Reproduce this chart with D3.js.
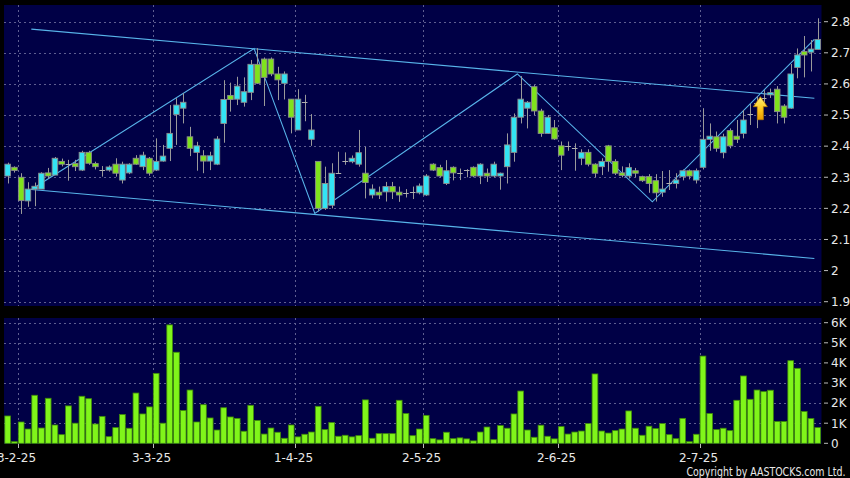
<!DOCTYPE html>
<html><head><meta charset="utf-8">
<script src="https://cdn.jsdelivr.net/npm/d3@7/dist/d3.min.js"></script>
<style>html,body{margin:0;padding:0;background:#000;}svg{display:block;}</style>
</head><body>
<script>
// ---- categories (HK trading days, D-M-YY) ----
const dates = ("27-1-25 28-1-25 " +
 "3-2-25 4-2-25 5-2-25 6-2-25 7-2-25 10-2-25 11-2-25 12-2-25 13-2-25 14-2-25 17-2-25 18-2-25 19-2-25 20-2-25 21-2-25 24-2-25 25-2-25 26-2-25 27-2-25 28-2-25 " +
 "3-3-25 4-3-25 5-3-25 6-3-25 7-3-25 10-3-25 11-3-25 12-3-25 13-3-25 14-3-25 17-3-25 18-3-25 19-3-25 20-3-25 21-3-25 24-3-25 25-3-25 26-3-25 27-3-25 28-3-25 31-3-25 " +
 "1-4-25 2-4-25 3-4-25 7-4-25 8-4-25 9-4-25 10-4-25 11-4-25 14-4-25 15-4-25 16-4-25 17-4-25 22-4-25 23-4-25 24-4-25 25-4-25 28-4-25 29-4-25 30-4-25 " +
 "2-5-25 6-5-25 7-5-25 8-5-25 9-5-25 12-5-25 13-5-25 14-5-25 15-5-25 16-5-25 19-5-25 20-5-25 21-5-25 22-5-25 23-5-25 26-5-25 27-5-25 28-5-25 29-5-25 30-5-25 " +
 "2-6-25 3-6-25 4-6-25 5-6-25 6-6-25 9-6-25 10-6-25 11-6-25 12-6-25 13-6-25 16-6-25 17-6-25 18-6-25 19-6-25 20-6-25 23-6-25 24-6-25 25-6-25 26-6-25 27-6-25 30-6-25 " +
 "2-7-25 3-7-25 4-7-25 7-7-25 8-7-25 9-7-25 10-7-25 11-7-25 14-7-25 15-7-25 16-7-25 17-7-25 18-7-25 21-7-25 22-7-25 23-7-25 24-7-25 25-7-25").split(" ");

// ---- series values ----
const open  = [2.304,2.332,2.300,2.224,2.262,2.262,2.314,2.307,2.351,2.344,2.344,2.323,2.380,2.344,2.323,2.323,2.342,2.291,2.314,2.361,
 2.334,2.361,2.323,2.352,2.393,2.502,2.522,2.430,2.380,2.369,2.352,2.342,2.473,2.563,2.551,2.541,2.573,2.663,2.680,2.680,
 2.632,2.602,2.551,2.452,2.541,2.422,2.351,2.200,2.210,2.314,2.352,2.350,2.342,2.313,2.243,2.252,2.253,2.270,2.252,2.248,
 2.252,2.250,2.243,2.342,2.331,2.280,2.332,2.313,2.322,2.332,2.304,2.313,2.304,2.304,2.334,2.380,2.493,2.522,2.591,2.513,
 2.441,2.459,2.401,2.400,2.393,2.361,2.380,2.342,2.334,2.401,2.351,2.314,2.304,2.321,2.302,2.302,2.289,2.252,2.280,2.280,
 2.302,2.321,2.291,2.332,2.422,2.430,2.379,2.450,2.432,2.441,2.502,2.540,2.556,2.565,2.583,2.529,2.522,2.653,2.704,2.702,2.711];
const high  = [2.347,2.335,2.313,2.284,2.283,2.316,2.330,2.365,2.360,2.356,2.356,2.385,2.385,2.350,2.336,2.338,2.361,2.350,2.345,2.371,
 2.382,2.365,2.425,2.404,2.532,2.554,2.570,2.462,2.414,2.387,2.382,2.432,2.612,2.604,2.623,2.621,2.677,2.715,2.685,2.685,
 2.655,2.640,2.551,2.583,2.565,2.503,2.351,2.334,2.345,2.382,2.380,2.370,2.452,2.398,2.277,2.270,2.285,2.285,2.270,2.262,
 2.270,2.280,2.310,2.345,2.340,2.355,2.335,2.328,2.326,2.335,2.345,2.328,2.350,2.315,2.441,2.505,2.625,2.545,2.596,2.520,
 2.500,2.484,2.415,2.415,2.409,2.390,2.390,2.345,2.361,2.404,2.358,2.335,2.345,2.330,2.305,2.310,2.310,2.320,2.323,2.313,
 2.325,2.325,2.328,2.522,2.473,2.447,2.440,2.457,2.484,2.516,2.537,2.560,2.580,2.585,2.593,2.535,2.664,2.714,2.754,2.741,2.811];
const low   = [2.280,2.315,2.182,2.205,2.207,2.262,2.296,2.307,2.335,2.289,2.320,2.320,2.340,2.325,2.302,2.318,2.302,2.280,2.310,2.340,
 2.323,2.305,2.320,2.350,2.352,2.404,2.473,2.368,2.321,2.313,2.323,2.339,2.411,2.511,2.532,2.527,2.548,2.600,2.529,2.625,
 2.548,2.550,2.441,2.452,2.480,2.401,2.190,2.195,2.200,2.313,2.340,2.345,2.334,2.232,2.232,2.230,2.222,2.230,2.221,2.235,
 2.230,2.245,2.240,2.320,2.300,2.275,2.290,2.291,2.300,2.300,2.278,2.285,2.300,2.260,2.280,2.350,2.473,2.457,2.500,2.430,
 2.440,2.420,2.323,2.385,2.321,2.339,2.335,2.300,2.307,2.318,2.307,2.300,2.296,2.300,2.285,2.250,2.222,2.237,2.259,2.264,
 2.290,2.293,2.280,2.325,2.385,2.382,2.361,2.393,2.410,2.425,2.468,2.458,2.530,2.555,2.473,2.473,2.520,2.618,2.621,2.640,2.711];
const close = [2.342,2.322,2.225,2.262,2.271,2.313,2.304,2.361,2.342,2.344,2.334,2.380,2.345,2.334,2.323,2.333,2.313,2.342,2.342,2.342,
 2.371,2.313,2.351,2.368,2.441,2.532,2.541,2.393,2.401,2.352,2.369,2.423,2.550,2.550,2.593,2.575,2.663,2.602,2.621,2.632,
 2.613,2.632,2.493,2.551,2.541,2.452,2.200,2.280,2.313,2.314,2.352,2.361,2.379,2.283,2.262,2.243,2.270,2.253,2.243,2.248,
 2.252,2.272,2.304,2.323,2.304,2.321,2.314,2.313,2.322,2.304,2.342,2.304,2.342,2.313,2.404,2.493,2.551,2.541,2.513,2.441,
 2.493,2.423,2.371,2.400,2.393,2.380,2.342,2.313,2.351,2.351,2.313,2.306,2.331,2.313,2.289,2.280,2.250,2.262,2.280,2.291,
 2.321,2.304,2.321,2.422,2.432,2.393,2.430,2.401,2.422,2.484,2.502,2.540,2.556,2.572,2.511,2.493,2.632,2.693,2.693,2.712,2.743];
const volumeK = [1.36,0.08,1.06,0.71,2.39,0.76,2.24,0.91,0.43,1.86,1.0,2.34,2.22,0.96,1.34,0.33,0.78,1.43,0.75,2.50,
 1.46,1.81,3.48,1.0,5.89,4.53,1.63,2.65,1.06,1.92,1.26,0.66,1.77,1.31,1.24,0.6,1.89,1.14,0.46,0.76,
 0.55,0.25,0.91,0.32,0.45,0.56,1.84,0.68,1.03,0.35,0.4,0.32,0.38,2.16,0.25,0.48,0.48,0.48,2.14,1.48,
 0.38,0.71,1.39,0.23,0.17,0.55,0.23,0.27,0.22,0.12,0.56,0.81,0.18,0.88,0.75,1.46,2.6,0.66,0.3,0.9,
 0.35,0.22,0.83,0.46,0.56,0.61,0.98,3.45,0.61,0.51,0.63,0.71,1.61,0.75,0.4,0.85,0.73,0.98,0.43,0.23,
 1.24,0.08,0.45,4.34,1.48,0.68,0.75,0.63,2.14,3.35,2.19,2.65,2.57,2.64,1.08,1.08,4.11,3.73,1.58,1.23,0.78];

// ---- tick labels ----
const priceTicks = [1.9,2.0,2.1,2.2,2.3,2.4,2.5,2.6,2.7,2.8];
const priceTickLabels = ["1.9","2","2.1","2.2","2.3","2.4","2.5","2.6","2.7","2.8"];
const volTicks = [0,1,2,3,4,5,6];
const volTickLabels = ["0","1K","2K","3K","4K","5K","6K"];
const monthTickDates = ["3-2-25","3-3-25","1-4-25","2-5-25","2-6-25","2-7-25"];

// ---- drawn trend lines: [bar index, price] ----
const channelUpper = [[4,2.776],[120,2.554]];
const channelLower = [[4,2.2605],[120,2.039]];
const zigzag = [[4,2.2605],[37,2.714],[46,2.184],[76,2.632],[96,2.221],[120,2.743]];
const signalBar = 112, signalPrice = 2.559;

// ---- layout ----
const W = 850, H = 478;
const svg = d3.select("body").append("svg").attr("width", W).attr("height", H)
  .style("font-family", "'DejaVu Sans', Verdana, sans-serif");
svg.append("rect").attr("width", W).attr("height", H).attr("fill", "#000");

const idx = d3.range(dates.length);
const x = d3.scaleBand().domain(idx).range([4.3, 821.1]).padding(0);
const bw = x.bandwidth();
const yP = d3.scaleLinear().domain([1.9, 2.8]).range([301.7, 21.7]);
const yV = d3.scaleLinear().domain([0, 6]).range([443.3, 322.7]);

const pTop = 5, pBot = 306, vTop = 318, vBot = 444, L = 4, R = 821.5;
const navy = "#000046";
svg.append("rect").attr("x", L).attr("y", pTop).attr("width", R - L).attr("height", pBot - pTop).attr("fill", navy);
svg.append("rect").attr("x", L).attr("y", vTop).attr("width", R - L).attr("height", vBot - vTop).attr("fill", navy);

const gridC = "#5e5e90", dash = "2,3";
const monthIdx = monthTickDates.map(d => dates.indexOf(d));
// horizontal grid price
svg.append("g").selectAll("line").data(priceTicks).join("line")
  .attr("x1", L).attr("x2", R).attr("y1", d => Math.round(yP(d)) + 0.5).attr("y2", d => Math.round(yP(d)) + 0.5)
  .attr("stroke", gridC).attr("stroke-dasharray", dash);
svg.append("g").selectAll("line").data(volTicks.filter(v => v > 0)).join("line")
  .attr("x1", L).attr("x2", R).attr("y1", d => Math.round(yV(d)) + 0.5).attr("y2", d => Math.round(yV(d)) + 0.5)
  .attr("stroke", gridC).attr("stroke-dasharray", dash);
// vertical grid
[[pTop, pBot], [vTop, vBot]].forEach(([a, b]) => {
  svg.append("g").selectAll("line").data(monthIdx).join("line")
    .attr("x1", i => Math.round(x(i)) + 0.5).attr("x2", i => Math.round(x(i)) + 0.5)
    .attr("y1", a).attr("y2", b).attr("stroke", gridC).attr("stroke-dasharray", dash);
});

// channel + zigzag lines
const lineGen = d3.line().x(d => x(d[0])).y(d => yP(d[1]));
const trendC = "#58b4ea";
[channelUpper, channelLower, zigzag].forEach(pts => {
  svg.append("path").attr("d", lineGen(pts)).attr("fill", "none")
    .attr("stroke", trendC).attr("stroke-width", 1.1);
});

// candles
const upC = "#33e4f4", dnC = "#7fe21c", wickC = "#9a9a9a";
const cg = svg.append("g");
idx.forEach(i => {
  const cx = Math.round(x(i) + bw / 2) + 0.5;
  cg.append("line").attr("x1", cx).attr("x2", cx).attr("y1", yP(high[i])).attr("y2", yP(low[i]))
    .attr("stroke", wickC).attr("stroke-width", 1);
  const o = open[i], c = close[i];
  const bx = x(i) + 0.6, bwid = bw - 1.2;
  if (Math.abs(o - c) < 0.0005) {
    cg.append("line").attr("x1", bx).attr("x2", bx + bwid).attr("y1", Math.round(yP(c)) + 0.5).attr("y2", Math.round(yP(c)) + 0.5)
      .attr("stroke", "#b0b0b0").attr("stroke-width", 1);
  } else {
    const top = yP(Math.max(o, c)), bot = yP(Math.min(o, c));
    cg.append("rect").attr("x", bx).attr("y", top).attr("width", bwid).attr("height", Math.max(1, bot - top))
      .attr("fill", c > o ? upC : dnC).attr("stroke", "#8c8c8c").attr("stroke-width", 0.9);
  }
});

// signal arrow
const defs = svg.append("defs");
const grad = defs.append("linearGradient").attr("id", "ag").attr("x1", 0).attr("y1", 0).attr("x2", 0).attr("y2", 1);
grad.append("stop").attr("offset", "0%").attr("stop-color", "#fff27a");
grad.append("stop").attr("offset", "55%").attr("stop-color", "#ffc91a");
grad.append("stop").attr("offset", "100%").attr("stop-color", "#e89a00");
const ax = x(signalBar), ay = yP(signalPrice);
svg.append("path")
  .attr("d", `M${ax},${ay} L${ax + 7},${ay + 10} L${ax + 3},${ay + 10} L${ax + 3},${ay + 23} L${ax - 3},${ay + 23} L${ax - 3},${ay + 10} L${ax - 7},${ay + 10} Z`)
  .attr("fill", "url(#ag)").attr("stroke", "#b77a00").attr("stroke-width", 0.8);

// volume bars
svg.append("g").selectAll("rect").data(idx).join("rect")
  .attr("x", i => x(i) + 0.5).attr("width", bw - 1)
  .attr("y", i => yV(volumeK[i])).attr("height", i => yV(0) - yV(volumeK[i]))
  .attr("fill", "#80f51a").attr("stroke", "#3f8a0a").attr("stroke-width", 0.8);

// right axes
const textC = "#e8e8e8";
const ra = svg.append("g");
priceTicks.forEach((t, k) => {
  const yy = yP(t);
  ra.append("line").attr("x1", 824).attr("x2", 828).attr("y1", yy).attr("y2", yy).attr("stroke", "#bbb");
  ra.append("text").attr("x", 831).attr("y", yy).attr("dy", "0.36em").attr("fill", textC)
    .attr("font-size", 12).text(priceTickLabels[k]);
});
volTicks.forEach((t, k) => {
  const yy = yV(t);
  ra.append("line").attr("x1", 824).attr("x2", 828).attr("y1", yy).attr("y2", yy).attr("stroke", "#bbb");
  ra.append("text").attr("x", 831).attr("y", yy).attr("dy", "0.36em").attr("fill", textC)
    .attr("font-size", 12).text(volTickLabels[k]);
});

// bottom axis
monthIdx.forEach((i, k) => {
  const xx = Math.round(x(i)) + 0.5;
  svg.append("line").attr("x1", xx).attr("x2", xx).attr("y1", vBot).attr("y2", vBot + 4).attr("stroke", "#bbb");
  svg.append("text").attr("x", xx - 2).attr("y", 461.5).attr("text-anchor", "middle").attr("fill", textC)
    .attr("font-size", 12).text(monthTickDates[k]);
});

svg.append("text").attr("x", 845.5).attr("y", 475.5).attr("text-anchor", "end").attr("fill", textC)
  .attr("font-size", 12).attr("textLength", 159).attr("lengthAdjust", "spacingAndGlyphs")
  .text("Copyright by AASTOCKS.com Ltd.");
</script>
</body></html>
